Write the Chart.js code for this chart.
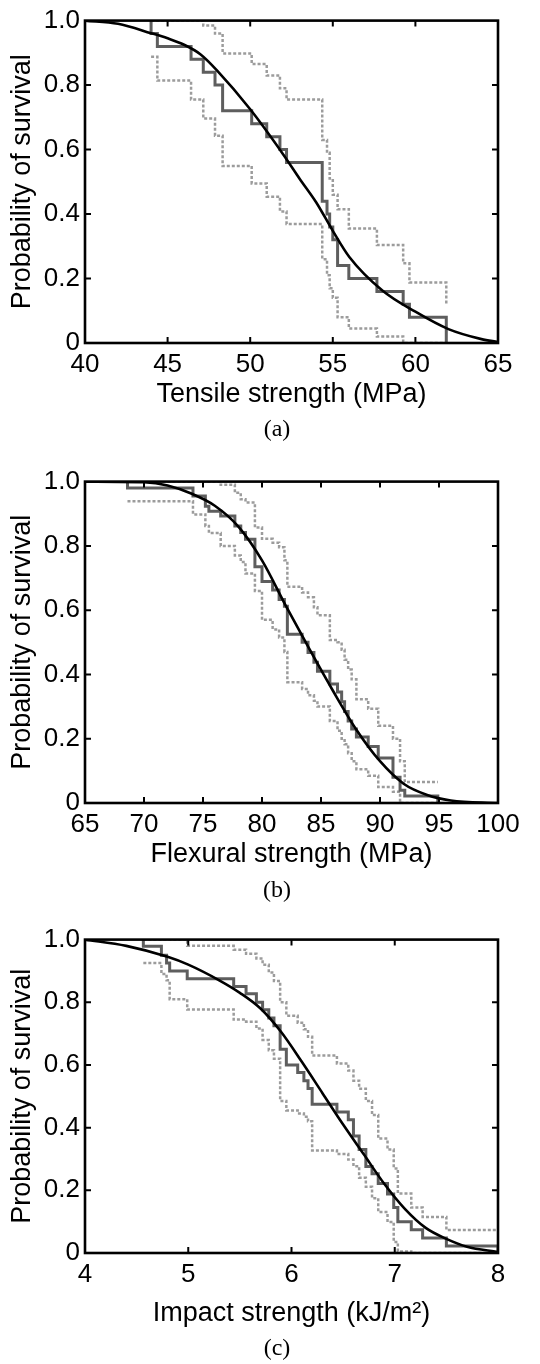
<!DOCTYPE html>
<html>
<head>
<meta charset="utf-8">
<script src="https://cdn.jsdelivr.net/npm/chart.js@4.4.1/dist/chart.umd.min.js"></script>
<style>
  body { margin: 0; background: #fff; }
  #page { position: relative; width: 540px; height: 1364px; overflow: hidden; }
  .panel { position: absolute; left: 0; width: 540px; height: 420px; }
  .caption { position: absolute; left: 257px; width: 40px; text-align: center;
    font-family: "Liberation Serif", "Times New Roman", serif; font-size: 24px; line-height: 24px; }
</style>
</head>
<body>
<div id="page">
  <div class="panel" style="top:0px"><canvas id="chartA" width="540" height="420"></canvas></div>
  <div class="caption" style="top:416px">(a)</div>
  <div class="panel" style="top:461px"><canvas id="chartB" width="540" height="420"></canvas></div>
  <div class="caption" style="top:877px">(b)</div>
  <div class="panel" style="top:919px"><canvas id="chartC" width="540" height="420"></canvas></div>
  <div class="caption" style="top:1335px">(c)</div>
</div>
<script>
// (a) tensile strength - step positions and survival values after each step
const tensileX     = [44.0, 44.38, 46.42, 47.16, 47.87, 48.33, 50.09, 51.0, 51.8, 52.2, 54.36, 54.65, 54.81, 55.0, 55.29, 55.97, 57.67, 59.26, 59.64, 61.87];
const tensileSurv  = [0.96, 0.92, 0.88, 0.84, 0.80, 0.72, 0.68, 0.64, 0.60, 0.56, 0.44, 0.40, 0.36, 0.32, 0.24, 0.20, 0.16, 0.12, 0.08, 0.0];
const tensileUpper = [1.0, 1.0, 1.0, 0.985, 0.96, 0.898, 0.865, 0.83, 0.79, 0.755, 0.63, 0.59, 0.51, 0.46, 0.415, 0.355, 0.304, 0.247, 0.188, 0.122];
const tensileLower = [0.888, 0.814, 0.755, 0.696, 0.643, 0.549, 0.495, 0.454, 0.408, 0.369, 0.26, 0.21, 0.17, 0.14, 0.08, 0.045, 0.02, 0.0, 0.0, 0.0];
const tensileFitX  = [40, 42, 44, 45, 46, 47, 48, 50, 52, 53, 54, 55, 56, 58, 60, 62, 64, 65];
const tensileFitY  = [1.0, 0.99, 0.961, 0.945, 0.925, 0.895, 0.845, 0.725, 0.585, 0.509, 0.436, 0.348, 0.267, 0.163, 0.097, 0.043, 0.012, 0.003];

// (b) flexural strength
const flexX     = [68.6, 74.15, 75.2, 75.5, 76.5, 77.7, 78.2, 78.6, 79.4, 80.0, 80.9, 81.45, 81.9, 82.15, 83.4, 83.9, 84.4, 84.7, 85.75, 86.4, 86.75, 87.0, 87.3, 87.6, 88.0, 89.0, 89.85, 91.1, 91.7, 92.1, 94.9];
const flexSurv  = [0.98, 0.955, 0.923, 0.908, 0.893, 0.862, 0.842, 0.821, 0.735, 0.689, 0.663, 0.633, 0.612, 0.525, 0.50, 0.468, 0.438, 0.41, 0.37, 0.345, 0.315, 0.285, 0.255, 0.23, 0.205, 0.176, 0.14, 0.08, 0.04, 0.022, 0.0];
const flexUpper = [1.0, 1.0, 1.0, 1.0, 0.99, 0.965, 0.945, 0.935, 0.857, 0.822, 0.81, 0.796, 0.755, 0.673, 0.655, 0.64, 0.609, 0.584, 0.507, 0.5, 0.477, 0.446, 0.415, 0.385, 0.323, 0.293, 0.24, 0.2, 0.13, 0.065, 0.065];
const flexLower = [0.939, 0.898, 0.862, 0.84, 0.80, 0.77, 0.75, 0.714, 0.66, 0.57, 0.54, 0.515, 0.47, 0.376, 0.355, 0.335, 0.318, 0.30, 0.255, 0.225, 0.20, 0.183, 0.155, 0.13, 0.105, 0.085, 0.05, 0.035, 0.0, 0.0, 0.0];
const flexFitX  = [65, 70, 72, 74, 76, 78, 80, 82, 84, 86, 88, 90, 92, 94, 96, 100];
const flexFitY  = [1.0, 0.998, 0.988, 0.963, 0.925, 0.86, 0.755, 0.615, 0.48, 0.35, 0.228, 0.13, 0.06, 0.025, 0.008, 0.0];

// (c) impact strength
const impactX     = [4.565, 4.74, 4.79, 4.82, 4.99, 5.44, 5.56, 5.66, 5.72, 5.78, 5.83, 5.89, 5.95, 6.06, 6.12, 6.16, 6.20, 6.44, 6.55, 6.60, 6.655, 6.72, 6.78, 6.84, 6.93, 6.99, 7.03, 7.16, 7.27, 7.5, 8.0];
const impactSurv  = [0.979, 0.95, 0.925, 0.90, 0.875, 0.85, 0.827, 0.80, 0.776, 0.75, 0.725, 0.65, 0.60, 0.576, 0.55, 0.525, 0.475, 0.45, 0.425, 0.373, 0.33, 0.276, 0.253, 0.222, 0.188, 0.145, 0.10, 0.074, 0.048, 0.022, 0.0];
const impactUpper = [1.0, 1.0, 1.0, 1.0, 0.98, 0.968, 0.955, 0.94, 0.92, 0.895, 0.868, 0.80, 0.757, 0.735, 0.714, 0.69, 0.63, 0.605, 0.582, 0.55, 0.524, 0.485, 0.44, 0.365, 0.33, 0.27, 0.19, 0.145, 0.115, 0.073, 0.073];
const impactLower = [0.925, 0.89, 0.87, 0.81, 0.777, 0.745, 0.738, 0.716, 0.68, 0.647, 0.62, 0.485, 0.455, 0.445, 0.435, 0.42, 0.327, 0.316, 0.298, 0.277, 0.24, 0.211, 0.175, 0.131, 0.099, 0.035, 0.005, 0.0, 0.0, 0.0, 0.0];
const impactFitX  = [4.0, 4.4, 4.8, 5.0, 5.3, 5.5, 5.7, 5.9, 6.1, 6.3, 6.5, 6.7, 6.9, 7.1, 7.3, 7.5, 7.7, 8.0];
const impactFitY  = [1.0, 0.98, 0.945, 0.92, 0.87, 0.83, 0.78, 0.705, 0.61, 0.51, 0.41, 0.315, 0.22, 0.14, 0.08, 0.045, 0.02, 0.003];

const yTicks = [0, 0.2, 0.4, 0.6, 0.8, 1.0];

Chart.defaults.font.family = '"Liberation Sans", Arial, sans-serif';
Chart.defaults.color = '#000';

const pts = (xs, ys) => xs.map((x, i) => ({ x, y: ys[i] }));

// frame round the plot area and inward tick marks on all four sides
const frameTicks = {
  id: 'frameTicks',
  afterDraw(chart) {
    const { ctx, chartArea: a, scales: { x, y } } = chart;
    ctx.save();
    ctx.strokeStyle = '#000';
    ctx.lineWidth = 2;
    ctx.beginPath();
    x.ticks.forEach(t => {
      const px = x.getPixelForValue(t.value);
      if (px < a.left + 2 || px > a.right - 2) return;
      ctx.moveTo(px, a.bottom); ctx.lineTo(px, a.bottom - 6);
      ctx.moveTo(px, a.top); ctx.lineTo(px, a.top + 6);
    });
    y.ticks.forEach(t => {
      const py = y.getPixelForValue(t.value);
      if (py < a.top + 2 || py > a.bottom - 2) return;
      ctx.moveTo(a.left, py); ctx.lineTo(a.left + 6, py);
      ctx.moveTo(a.right, py); ctx.lineTo(a.right - 6, py);
    });
    ctx.stroke();
    ctx.lineWidth = 2.6;
    ctx.strokeRect(a.left, a.top, a.right - a.left, a.bottom - a.top);
    ctx.restore();
  }
};

function drawPanel(id, p) {
  const solid = [{ x: p.x[0], y: 1.0 }].concat(pts(p.x, p.surv));
  new Chart(document.getElementById(id), {
    type: 'line',
    data: {
      datasets: [
        { data: pts(p.fitX, p.fitY), borderColor: '#000', borderWidth: 2.6, cubicInterpolationMode: 'monotone' },
        { data: solid, borderColor: '#5e5e5e', borderWidth: 3, stepped: true },
        { data: pts(p.x, p.upper), borderColor: '#9c9c9c', borderWidth: 2.5, borderDash: [3, 2], stepped: true },
        { data: pts(p.x, p.lower), borderColor: '#9c9c9c', borderWidth: 2.5, borderDash: [3, 2], stepped: true }
      ]
    },
    options: {
      responsive: false,
      animation: false,
      events: [],
      elements: { point: { radius: 0 } },
      layout: { padding: { top: 16, right: 42, left: 0, bottom: 0 } },
      plugins: { legend: { display: false }, tooltip: { enabled: false } },
      scales: {
        x: {
          type: 'linear', min: p.xMin, max: p.xMax,
          ticks: { stepSize: p.xStep, padding: 6, font: { size: 26 }, color: '#000' },
          grid: { display: false, drawTicks: false },
          border: { display: false },
          title: { display: true, text: p.xTitle, color: '#000', font: { size: 27 }, padding: { top: 0, bottom: p.titlePad } },
          afterFit: s => { s.height = p.xHeight; }
        },
        y: {
          type: 'linear', min: 0, max: 1,
          afterBuildTicks: s => { s.ticks = yTicks.map(v => ({ value: v })); },
          ticks: { padding: 5, font: { size: 26 }, color: '#000', callback: v => v === 0 ? '0' : v.toFixed(1) },
          grid: { display: false, drawTicks: false },
          border: { display: false },
          title: { display: true, text: 'Probability of survival', color: '#000', font: { size: 27 }, padding: { top: 6, bottom: 0 } },
          afterFit: s => { s.width = 85; }
        }
      }
    },
    plugins: [frameTicks]
  });
}

drawPanel('chartA', {
  x: tensileX, surv: tensileSurv, upper: tensileUpper, lower: tensileLower,
  fitX: tensileFitX, fitY: tensileFitY,
  xMin: 40, xMax: 65, xStep: 5, xTitle: 'Tensile strength (MPa)', xHeight: 77, titlePad: 9
});
drawPanel('chartB', {
  x: flexX, surv: flexSurv, upper: flexUpper, lower: flexLower,
  fitX: flexFitX, fitY: flexFitY,
  xMin: 65, xMax: 100, xStep: 5, xTitle: 'Flexural strength (MPa)', xHeight: 78, titlePad: 10
});
drawPanel('chartC', {
  x: impactX, surv: impactSurv, upper: impactUpper, lower: impactLower,
  fitX: impactFitX, fitY: impactFitY,
  xMin: 4, xMax: 8, xStep: 1, xTitle: 'Impact strength (kJ/m²)', xHeight: 86, titlePad: 9
});
</script>
</body>
</html>
